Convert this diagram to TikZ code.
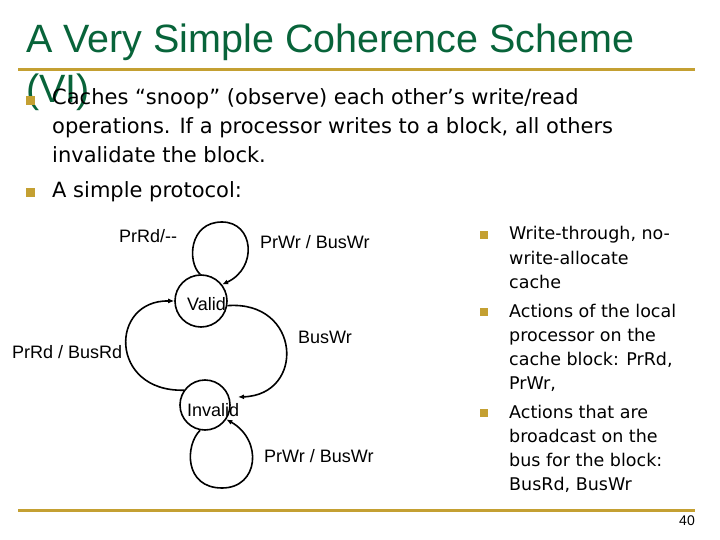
\documentclass[tikz,border=0pt]{standalone}
\usepackage{fontspec}
\setmainfont{Liberation Sans}
\newfontfamily\tah{DejaVu Sans}
\usetikzlibrary{arrows.meta}
\definecolor{titlegreen}{RGB}{8,100,58}
\definecolor{gold}{RGB}{196,160,50}
\tikzset{
  state/.style={circle,draw,line width=1.6pt,minimum size=#1,inner sep=0pt},
  lbl/.style={anchor=base west,inner sep=0pt,font=\fontsize{18}{20}\selectfont},
  arr/.style={line width=1.6pt,-{Latex[length=6pt,width=5pt]}},
  body/.style={anchor=base west,inner sep=0pt,font=\tah\fontsize{21}{24}\selectfont},
  side/.style={anchor=base west,inner sep=0pt,font=\tah\fontsize{17.5}{20}\selectfont},
  bulA/.style={fill=gold,draw=none,minimum size=9pt,inner sep=0pt,anchor=south west},
  bulB/.style={fill=gold,draw=none,minimum size=7.5pt,inner sep=0pt,anchor=south west},
  rule/.style={draw=gold,line width=3pt}
}
\begin{document}
\begin{tikzpicture}[x=1pt,y=-1pt]
\useasboundingbox (0,0) rectangle (720,540);
\fill[white] (0,0) rectangle (720,540);
% title
\node[anchor=base west,inner sep=0pt,text=titlegreen,font=\fontsize{39.5}{45}\selectfont] (t1) at (26,53) {A Very Simple Coherence Scheme};
\coordinate (r1a) at (18,70);
\coordinate (r1b) at (695,70);
\draw[rule] (r1a) -- (r1b);
\node[anchor=base west,inner sep=0pt,text=titlegreen,font=\fontsize{39.5}{45}\selectfont] (t2) at (26,103) {(VI)};
% main bullets
\node[bulA] (b1) at (26,105) {};
\node[body] (l1) at (52,105) {Caches “snoop” (observe) each other’s write/read};
\node[body] (l2) at (52,134) {operations. If a processor writes to a block, all others};
\node[body] (l3) at (52,163) {invalidate the block.};
\node[bulA] (b2) at (26,197) {};
\node[body] (l4) at (52,197) {A simple protocol:};
% states
\node[state=52pt] (V) at (201,301) {};
\node[state=50pt] (I) at (205,405) {};
\node[lbl] (vt) at (187,310) {Valid};
\node[lbl] (it) at (187,416) {Invalid};
% transitions
\draw[arr] (V.92) .. controls (187,262) and (189,222) .. (222,222) .. controls (254,222) and (258,268) .. (V.38);
\draw[arr] (I.259) .. controls (185,445) and (184,488) .. (222,488) .. controls (259,488) and (263,440) .. (I.-34);
\draw[arr] (I.145) .. controls (109,392) and (109,300) .. (V.180);
\coordinate (tipR) at (238,397);
\draw[arr] (V.-10) .. controls (301,300) and (306,395) .. (tipR);
% labels
\node[lbl] (a1) at (119,243) {PrRd/-{}-};
\node[lbl] (a2) at (260,248) {PrWr / BusWr};
\node[lbl] (a3) at (298,343) {BusWr};
\node[lbl] (a4) at (12,358) {PrRd / BusRd};
\node[lbl] (a5) at (264,462) {PrWr / BusWr};
% side bullets
\node[bulB] (s1) at (480,239) {};
\node[side] (r1) at (509,240) {Write-through, no-};
\node[side] (r2) at (509,264) {write-allocate};
\node[side] (r3) at (509,288) {cache};
\node[bulB] (s2) at (480,316) {};
\node[side] (r4) at (509,317) {Actions of the local};
\node[side] (r5) at (509,341) {processor on the};
\node[side] (r6) at (509,365) {cache block: PrRd,};
\node[side] (r7) at (509,389) {PrWr,};
\node[bulB] (s3) at (480,417) {};
\node[side] (r8) at (509,418) {Actions that are};
\node[side] (r9) at (509,442) {broadcast on the};
\node[side] (r10) at (509,466) {bus for the block:};
\node[side] (r11) at (509,490) {BusRd, BusWr};
% footer
\coordinate (r2a) at (18,510);
\coordinate (r2b) at (695,510);
\draw[rule] (r2a) -- (r2b);
\node[anchor=base east,inner sep=0pt,font=\fontsize{14}{16}\selectfont] (pg) at (695,525) {40};
\end{tikzpicture}
\end{document}
